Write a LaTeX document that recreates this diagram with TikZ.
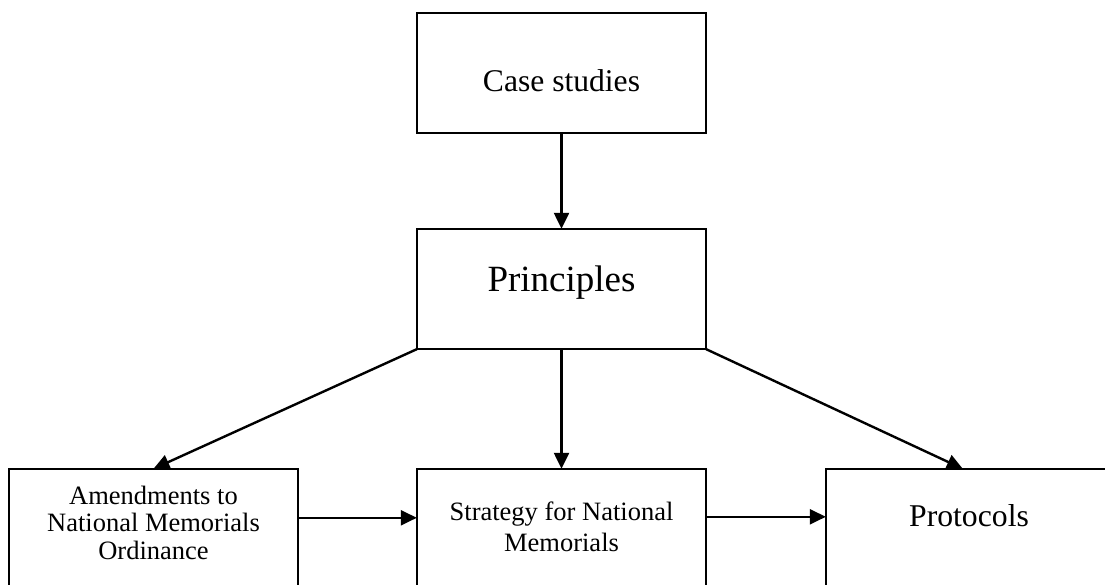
\documentclass[tikz,border=0pt]{standalone}
\usepackage{fontspec}
\setmainfont{Liberation Serif}
\usetikzlibrary{arrows.meta,calc}
\begin{document}
\begin{tikzpicture}[x=1pt,y=-1pt,
  boxstyle/.style={draw=black,line width=2.4pt,fill=none},
  arr/.style={line width=2.4pt,-{Triangle[length=16pt,width=15pt]}},
  lbl/.style={anchor=base,inner sep=0pt,align=center}]
\useasboundingbox (0,0) rectangle (1105,585);
\clip (0,0) rectangle (1105,585);
% boxes
\draw[boxstyle] (417,13) rectangle (706,133);
\node[minimum width=289pt,minimum height=120pt,inner sep=0pt] (cs) at (561.5,73) {};
\draw[boxstyle] (417,229) rectangle (706,349);
\node[minimum width=289pt,minimum height=120pt,inner sep=0pt] (pr) at (561.5,289) {};
\draw[boxstyle] (9,469) rectangle (298,640);
\node[minimum width=289pt,minimum height=171pt,inner sep=0pt] (am) at (153.5,554.5) {};
\draw[boxstyle] (417,469) rectangle (706,640);
\node[minimum width=289pt,minimum height=171pt,inner sep=0pt] (st) at (561.5,554.5) {};
\draw[boxstyle] (826,469) rectangle (1130,640);
\node[minimum width=304pt,minimum height=171pt,inner sep=0pt] (pt) at (978,554.5) {};
% texts
\node[lbl,font=\fontsize{31.6}{36}\selectfont] (tcs) at (561.5,92) {Case studies};
\node[lbl,font=\fontsize{37}{42}\selectfont] (tpr) at (561.5,291) {Principles};
\node[lbl,font=\fontsize{26.5}{27.5}\selectfont] (tam) at (153.5,559) {Amendments to\\National Memorials\\Ordinance};
\node[lbl,font=\fontsize{26.5}{31}\selectfont] (tst) at (561.5,551) {Strategy for National\\Memorials};
\node[lbl,font=\fontsize{31.7}{36}\selectfont] (tpt) at (969,526) {Protocols};
% connectors
\coordinate (ptin) at ($(pt.north west)+(137,0)$);
\draw[arr] (cs.south) -- (pr.north);
\draw[arr] (pr.south west) -- (am.north);
\draw[arr] (pr.south) -- (st.north);
\draw[arr] (pr.south east) -- (ptin);
\draw[arr] ($(am.north east)+(0,49)$) -- ($(st.north west)+(0,49)$);
\draw[arr] ($(st.north east)+(0,48)$) -- ($(pt.north west)+(0,48)$);
\end{tikzpicture}
\end{document}
